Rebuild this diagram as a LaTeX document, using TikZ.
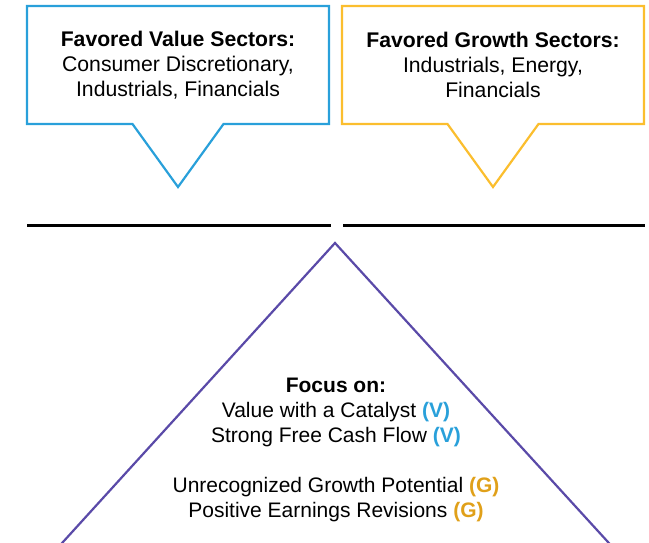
\documentclass[tikz,border=0pt]{standalone}
\usepackage{fontspec}
\setmainfont{Liberation Sans}
\usetikzlibrary{shapes.callouts}

\definecolor{valueBlue}{HTML}{29A0DA}
\definecolor{growthGold}{HTML}{FBBE2E}
\definecolor{growthText}{HTML}{E0A019}
\definecolor{focusPurple}{HTML}{5A4AA8}

\begin{document}
\begin{tikzpicture}[x=1pt,y=-1pt,%%
  calloutStyle/.style={rectangle callout,draw,line width=2.2pt,fill=white,
    minimum width=302pt,minimum height=118pt,callout pointer width=91pt,
    align=center,inner sep=0pt,font=\fontsize{21.2}{25}\selectfont},%%
  ruleStyle/.style={-,line width=3pt,black},%%
  focusStyle/.style={-,line width=2.2pt,focusPurple},%%
  textStyle/.style={align=center,inner sep=0pt,font=\fontsize{21}{25}\selectfont}
]
%%
\useasboundingbox (0,0) rectangle (649,543);
%%
%% The two callouts.
%%
\node[calloutStyle,draw=valueBlue,callout absolute pointer={(178,187)}]
  (valueBox) at (178,65)
  {\textbf{Favored Value Sectors:}\\Consumer Discretionary,\\Industrials, Financials};
\node[calloutStyle,draw=growthGold,callout absolute pointer={(493,187)}]
  (growthBox) at (493,65)
  {\textbf{Favored Growth Sectors:}\\Industrials, Energy,\\Financials};
%%
%% The two rules.
%%
\coordinate (ruleLA) at (27,225);
\coordinate (ruleLB) at (331,225);
\coordinate (ruleRA) at (343,225);
\coordinate (ruleRB) at (645,225);
\draw[ruleStyle] (ruleLA) -- (ruleLB);
\draw[ruleStyle] (ruleRA) -- (ruleRB);
%%
%% The triangle, cut by the lower edge.
%%
\coordinate (apex) at (335,243);
\coordinate (baseL) at (53,553);
\coordinate (baseR) at (618,553);
\draw[focusStyle,line join=miter] (baseL) -- (apex) -- (baseR);
%%
\node[textStyle] (focusText) at (336,450)
  {\textbf{Focus on:}\\
   Value with a Catalyst \textcolor{valueBlue}{\textbf{(V)}}\\
   Strong Free Cash Flow \textcolor{valueBlue}{\textbf{(V)}}\\[25pt]
   Unrecognized Growth Potential \textcolor{growthText}{\textbf{(G)}}\\
   Positive Earnings Revisions \textcolor{growthText}{\textbf{(G)}}};
\end{tikzpicture}
\end{document}
